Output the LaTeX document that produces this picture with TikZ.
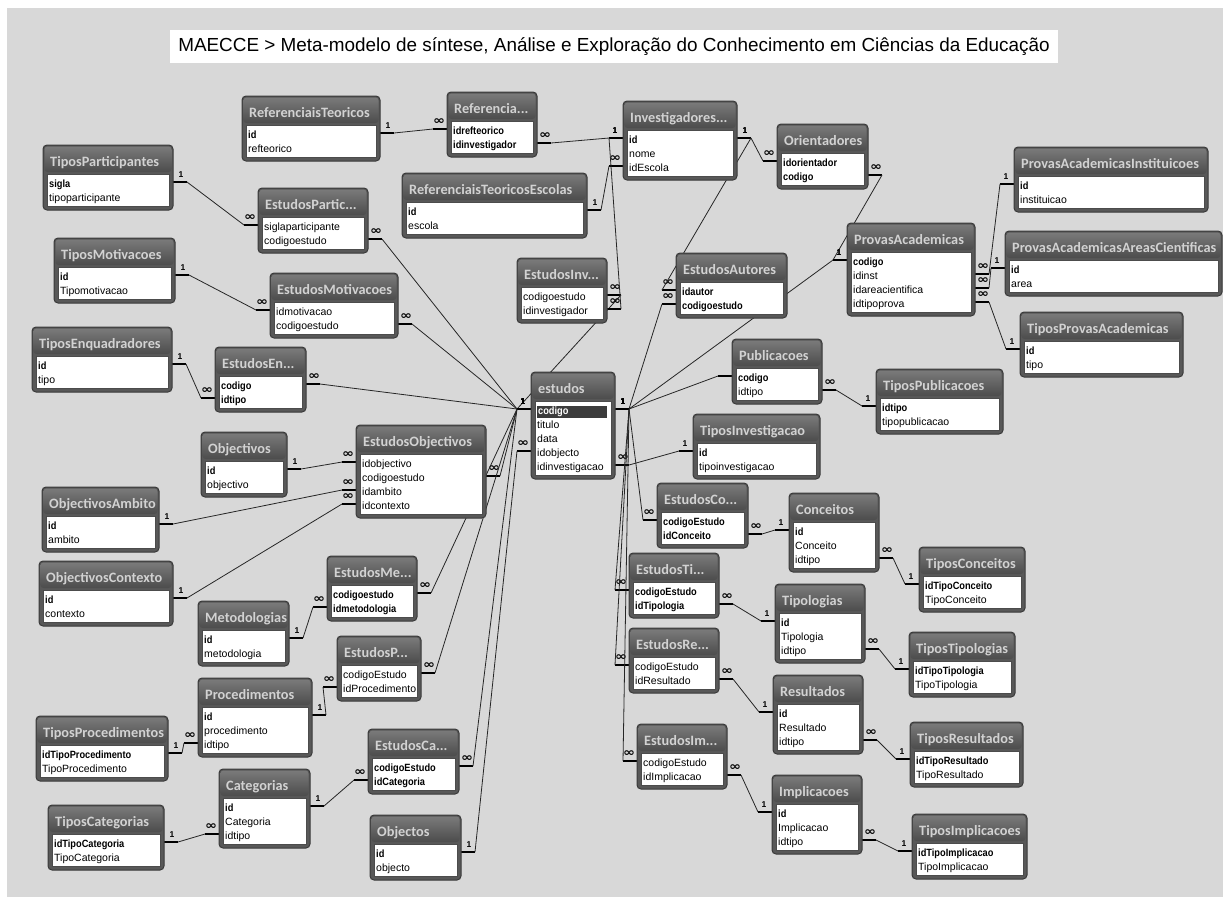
\documentclass[tikz,border=0pt]{standalone}
\usepackage{fontspec}
\setmainfont{Liberation Sans}
\newfontfamily\hdfont{Carlito}
\newfontfamily\symfnt{DejaVu Sans}
\usepackage{graphicx}
\definecolor{bgc}{RGB}{216,216,216}
\definecolor{tbody}{RGB}{88,88,88}
\definecolor{tborder}{RGB}{58,58,58}
\definecolor{hdtop}{RGB}{122,122,122}
\definecolor{hdbot}{RGB}{76,76,76}
\definecolor{hdtext}{RGB}{210,210,210}
\definecolor{hlc}{RGB}{60,60,60}
\newcommand\B[1]{\scalebox{0.88}[1]{\bfseries #1}}
\newcommand\HL[1]{{\setlength\fboxsep{1pt}\colorbox{hlc}{\makebox[68pt][l]{\color{white}\B{#1}}}}}
\newcommand\oo{\scalebox{1.25}[1]{\symfnt\bfseries\fontsize{11.5}{11.5}\selectfont ∞}}
\tikzset{
 tabbody/.style={draw=tborder, fill=tbody, line width=1pt, rounded corners=4pt, inner sep=0pt, outer sep=0pt},
 fieldbox/.style={draw=gray!60!black, fill=white, line width=0.8pt},
 hdtxt/.style={font=\hdfont\bfseries\fontsize{14.3}{14.3}\selectfont, text=hdtext, inner sep=0pt},
 fldtxt/.style={font=\fontsize{10.5}{10.5}\selectfont, inner sep=0pt, text=black},
 stubline/.style={line width=2.6pt, black},
 conn/.style={line width=0.8pt, black!85},
 rlbl/.style={font=\bfseries\fontsize{8.5}{8.5}\selectfont, inner sep=0pt},
}
% table: name, x, y, width, rows, title, fields
\newcommand\dbt[7]{%
 \pgfmathsetmacro\tabh{37+14*#5}%
 \node[tabbody, minimum width=#4pt, minimum height=\tabh pt, anchor=north west] (#1) at (#2,#3) {};
 \shade[top color=hdtop, bottom color=hdbot, rounded corners=3pt] ({#2+1.5},{#3+1.5}) rectangle ({#2+#4-1.5},{#3+27});
 \draw[fieldbox] ({#2+4},{#3+29}) rectangle ({#2+#4-4},{#3+\tabh-4});
 \node[hdtxt, anchor=base west] (#1-t) at ({#2+7},{#3+21}) {#6};
 \foreach \f [count=\i] in {#7} {
   \node[fldtxt, anchor=base west] (#1-f\i) at ({#2+6},{#3+28.7+14*\i}) {\f};
   \coordinate (#1-L\i) at (#2,{#3+23+14*\i});
   \coordinate (#1-R\i) at ({#2+#4},{#3+23+14*\i});
 }
}
% relation: coordA, dirA, labelA, coordB, dirB, labelB
\newcommand\rel[6]{%
 \draw[stubline] (#1) -- ++({#2*14},0) coordinate (ea);
 \path (#1) ++({#2*8},-7) node[rlbl] {#3};
 \draw[stubline] (#4) -- ++({#5*14},0) coordinate (eb);
 \path (#4) ++({#5*8},-7) node[rlbl] {#6};
 \draw[conn] (ea) -- (eb);
}
\pgfdeclarelayer{back}
\pgfdeclarelayer{lines}
\pgfsetlayers{back,lines,main}
\begin{document}
\begin{tikzpicture}[x=1pt,y=-1pt]
\useasboundingbox (0,0) rectangle (1230,903);
\begin{pgfonlayer}{back}
\fill[white] (0,0) rectangle (1230,903);
\fill[bgc] (7,8) rectangle (1223,897);
\fill[white] (170,30) rectangle (1058,63);
\end{pgfonlayer}
\node[font=\fontsize{18.9}{18.9}\selectfont, inner sep=0pt] (title) at (614,47) {MAECCE > Meta-modelo de síntese, Análise e Exploração do Conhecimento em Ciências da Educação};

\dbt{rt}{242}{96}{138}{2}{ReferenciaisTeoricos}{\B{id}, refteorico}
\dbt{rti}{447}{92}{90}{2}{Referencia...}{\B{idrefteorico}, \B{idinvestigador}}
\dbt{inv}{623}{101}{114}{3}{Investigadores...}{\B{id}, nome, idEscola}
\dbt{ori}{777}{124}{91}{2}{Orientadores}{\B{idorientador}, \B{codigo}}
\dbt{tpar}{43}{145}{130}{2}{TiposParticipantes}{\B{sigla}, tipoparticipante}
\dbt{epar}{258}{188}{110}{2}{EstudosPartic...}{siglaparticipante, codigoestudo}
\dbt{rte}{402}{173}{185}{2}{ReferenciaisTeoricosEscolas}{\B{id}, escola}
\dbt{pai}{1014}{147}{194}{2}{ProvasAcademicasInstituicoes}{\B{id}, instituicao}
\dbt{tmot}{54}{238}{121}{2}{TiposMotivacoes}{\B{id}, Tipomotivacao}
\dbt{emot}{270}{273}{128}{2}{EstudosMotivacoes}{idmotivacao, codigoestudo}
\dbt{einv}{517}{258}{90}{2}{EstudosInv...}{codigoestudo, idinvestigador}
\dbt{eaut}{676}{253}{111}{2}{EstudosAutores}{\B{idautor}, \B{codigoestudo}}
\dbt{pa}{847}{223}{128}{4}{ProvasAcademicas}{\B{codigo}, idinst, idareacientifica, idtipoprova}
\dbt{paac}{1005}{231}{217}{2}{ProvasAcademicasAreasCientificas}{\B{id}, area}
\dbt{tpa}{1020}{312}{163}{2}{TiposProvasAcademicas}{\B{id}, tipo}
\dbt{tenq}{32}{327}{140}{2}{TiposEnquadradores}{\B{id}, tipo}
\dbt{eenq}{215}{347}{91}{2}{EstudosEn...}{\B{codigo}, \B{idtipo}}
\dbt{pub}{732}{339}{90}{2}{Publicacoes}{\B{codigo}, idtipo}
\dbt{tpub}{876}{369}{127}{2}{TiposPublicacoes}{\B{idtipo}, tipopublicacao}
\dbt{est}{531}{372}{84}{5}{estudos}{\HL{codigo}, titulo, data, idobjecto, idinvestigacao}
\dbt{obj}{201}{432}{86}{2}{Objectivos}{\B{id}, objectivo}
\dbt{eobj}{356}{425}{130}{4}{EstudosObjectivos}{idobjectivo, codigoestudo, idambito, idcontexto}
\dbt{tinv}{693}{414}{127}{2}{TiposInvestigacao}{\B{id}, tipoinvestigacao}
\dbt{oamb}{42}{487}{117}{2}{ObjectivosAmbito}{\B{id}, ambito}
\dbt{econ}{657}{483}{91}{2}{EstudosCo...}{\B{codigoEstudo}, \B{idConceito}}
\dbt{con}{789}{493}{90}{3}{Conceitos}{\B{id}, Conceito, idtipo}
\dbt{octx}{39}{561}{134}{2}{ObjectivosContexto}{\B{id}, contexto}
\dbt{emet}{327}{556}{90}{2}{EstudosMe...}{\B{codigoestudo}, \B{idmetodologia}}
\dbt{met}{198}{601}{91}{2}{Metodologias}{\B{id}, metodologia}
\dbt{tcon}{919}{547}{106}{2}{TiposConceitos}{\B{idTipoConceito}, TipoConceito}
\dbt{etip}{629}{553}{90}{2}{EstudosTi...}{\B{codigoEstudo}, \B{idTipologia}}
\dbt{tip}{775}{584}{90}{3}{Tipologias}{\B{id}, Tipologia, idtipo}
\dbt{eproc}{337}{636}{84}{2}{EstudosP...}{codigoEstudo, idProcedimento}
\dbt{ttip}{909}{632}{106}{2}{TiposTipologias}{\B{idTipoTipologia}, TipoTipologia}
\dbt{eres}{629}{628}{90}{2}{EstudosRe...}{codigoEstudo, idResultado}
\dbt{proc}{198}{678}{114}{3}{Procedimentos}{\B{id}, procedimento, idtipo}
\dbt{res}{773}{675}{90}{3}{Resultados}{\B{id}, Resultado, idtipo}
\dbt{tproc}{36}{716}{132}{2}{TiposProcedimentos}{\B{idTipoProcedimento}, TipoProcedimento}
\dbt{eimp}{637}{724}{90}{2}{EstudosIm...}{codigoEstudo, idImplicacao}
\dbt{tres}{910}{722}{113}{2}{TiposResultados}{\B{idTipoResultado}, TipoResultado}
\dbt{ecat}{368}{729}{91}{2}{EstudosCa...}{\B{codigoEstudo}, \B{idCategoria}}
\dbt{cat}{219}{769}{91}{3}{Categorias}{\B{id}, Categoria, idtipo}
\dbt{tcat}{48}{805}{116}{2}{TiposCategorias}{\B{idTipoCategoria}, TipoCategoria}
\dbt{objs}{370}{815}{91}{2}{Objectos}{\B{id}, objecto}
\dbt{imp}{772}{775}{90}{3}{Implicacoes}{\B{id}, Implicacao, idtipo}
\dbt{timp}{912}{814}{115}{2}{TiposImplicacoes}{\B{idTipoImplicacao}, TipoImplicacao}

\begin{pgfonlayer}{lines}
\rel{tpar-R1}{1}{1}{epar-L1}{-1}{\oo}
\rel{tmot-R1}{1}{1}{emot-L1}{-1}{\oo}
\rel{tenq-R1}{1}{1}{eenq-L2}{-1}{\oo}
\rel{est-L1}{-1}{1}{epar-R2}{1}{\oo}
\rel{est-L1}{-1}{1}{emot-R2}{1}{\oo}
\rel{est-L1}{-1}{1}{eenq-R1}{1}{\oo}
\rel{est-L1}{-1}{1}{einv-R1}{1}{\oo}
\rel{est-L1}{-1}{1}{eobj-R2}{1}{\oo}
\rel{est-L1}{-1}{1}{emet-R1}{1}{\oo}
\rel{est-L1}{-1}{1}{eproc-R1}{1}{\oo}
\rel{est-L1}{-1}{1}{ecat-R1}{1}{\oo}
\rel{objs-R1}{1}{1}{est-L4}{-1}{\oo}
\rel{obj-R1}{1}{1}{eobj-L1}{-1}{\oo}
\rel{oamb-R1}{1}{1}{eobj-L3}{-1}{\oo}
\rel{octx-R1}{1}{1}{eobj-L4}{-1}{\oo}
\rel{met-R1}{1}{1}{emet-L2}{-1}{\oo}
\rel{proc-R1}{1}{1}{eproc-L2}{-1}{\oo}
\rel{tproc-R1}{1}{1}{proc-L3}{-1}{\oo}
\rel{cat-R1}{1}{1}{ecat-L2}{-1}{\oo}
\rel{tcat-R1}{1}{1}{cat-L3}{-1}{\oo}
\rel{rt-R1}{1}{1}{rti-L1}{-1}{\oo}
\rel{inv-L1}{-1}{1}{rti-R2}{1}{\oo}
\rel{rte-R1}{1}{1}{inv-L3}{-1}{\oo}
\rel{inv-L1}{-1}{1}{einv-R2}{1}{\oo}
\rel{inv-R1}{1}{1}{ori-L1}{-1}{\oo}
\rel{inv-R1}{1}{1}{eaut-L1}{-1}{\oo}
\rel{pa-L1}{-1}{1}{ori-R2}{1}{\oo}
\rel{pai-L1}{-1}{1}{pa-R2}{1}{\oo}
\rel{paac-L1}{-1}{1}{pa-R3}{1}{\oo}
\rel{tpa-L1}{-1}{1}{pa-R4}{1}{\oo}
\rel{est-R1}{1}{1}{eaut-L2}{-1}{\oo}
\rel{est-R1}{1}{1}{pa-L1}{-1}{1}
\rel{est-R1}{1}{1}{pub-L1}{-1}{}
\rel{tinv-L1}{-1}{1}{est-R5}{1}{\oo}
\rel{est-R1}{1}{1}{econ-L1}{-1}{\oo}
\rel{est-R1}{1}{1}{etip-L1}{-1}{\oo}
\rel{est-R1}{1}{1}{eres-L1}{-1}{\oo}
\rel{est-R1}{1}{1}{eimp-L1}{-1}{\oo}
\rel{pub-R2}{1}{\oo}{tpub-L1}{-1}{1}
\rel{econ-R2}{1}{\oo}{con-L1}{-1}{1}
\rel{con-R3}{1}{\oo}{tcon-L1}{-1}{1}
\rel{etip-R2}{1}{\oo}{tip-L1}{-1}{1}
\rel{tip-R3}{1}{\oo}{ttip-L1}{-1}{1}
\rel{eres-R2}{1}{\oo}{res-L1}{-1}{1}
\rel{res-R3}{1}{\oo}{tres-L1}{-1}{1}
\rel{eimp-R2}{1}{\oo}{imp-L1}{-1}{1}
\rel{imp-R3}{1}{\oo}{timp-L1}{-1}{1}
\end{pgfonlayer}
\end{tikzpicture}
\end{document}
